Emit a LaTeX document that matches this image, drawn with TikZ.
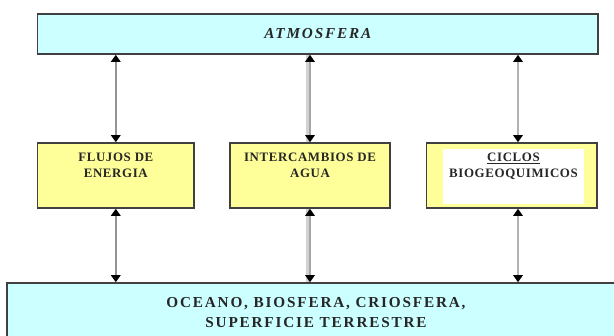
\documentclass[tikz,border=0pt]{standalone}
\usepackage{fontspec}
\setmainfont{Liberation Serif}
\usetikzlibrary{arrows.meta,positioning}
\definecolor{cielo}{HTML}{CCFFFF}
\definecolor{paja}{HTML}{FFFF99}
\tikzset{font=\bfseries}
\tikzset{
  bigbox/.style={draw=black!75,line width=1.3pt,fill=cielo,align=center,text=black!85,
    font=\fontsize{13}{17}\selectfont\bfseries\addfontfeature{LetterSpace=12}},
  midbox/.style={draw=black!75,line width=1.3pt,fill=paja,align=center,text=black!85,
    minimum height=1.95cm,text depth=0.6cm,
    font=\fontsize{11}{13.6}\selectfont\bfseries\addfontfeature{LetterSpace=5}},
  link/.style={line width=2.2pt,
    {Triangle[black,width=8pt,length=6pt]}-{Triangle[black,width=8pt,length=6pt]}},
  shade/.style={preaction={draw=gray!35,line width=3.5pt,-,
    transform canvas={xshift=-0.07cm}}}
}

\begin{document}
\begin{tikzpicture}
  \useasboundingbox (0,0) rectangle (18.42,-10.08);
  \clip (0,0) rectangle (18.42,-10.08);

  % upper and lower layers
  \node[bigbox,minimum width=16.81cm,minimum height=1.2cm] (atm) at (9.534,-1.02)
       {\itshape ATMOSFERA};
  \node[bigbox,minimum width=18.54cm,minimum height=1.77cm] (oceano) at (9.48,-9.375)
       {OCEANO, BIOSFERA, CRIOSFERA,\\SUPERFICIE TERRESTRE};

  % processes
  \node[midbox,minimum width=4.69cm] (flujos) at (3.474,-5.265) {FLUJOS DE\\ENERGIA};
  \node[midbox,minimum width=4.8cm] (agua) at (9.3,-5.265) {INTERCAMBIOS DE\\AGUA};
  \node[midbox,minimum width=5.115cm] (ciclos) at (15.35,-5.265) {};
  \node[fill=white,minimum width=4.23cm,minimum height=1.47cm,align=center,
        text depth=0.66cm,text=black!85,
        font=\fontsize{11}{13.6}\selectfont\bfseries\addfontfeature{LetterSpace=5}]
       (ciclostxt) at (15.405,-5.295) {\underline{CICLOS}\\BIOGEOQUIMICOS};

  \coordinate (c1) at ([xshift=0.19cm]ciclos.north);
  \coordinate (c2) at ([xshift=0.19cm]ciclos.south);

  \draw[link,draw=gray!85] (flujos.north |- atm.south) -- (flujos.north);
  \draw[link,shade,draw=gray!70] (agua.north |- atm.south) -- (agua.north);
  \draw[link,draw=gray!60] (c1 |- atm.south) -- (c1);

  \draw[link,draw=gray!85] (flujos.south) -- (flujos.south |- oceano.north);
  \draw[link,shade,draw=gray!70] (agua.south) -- (agua.south |- oceano.north);
  \draw[link,draw=gray!60] (c2) -- (c2 |- oceano.north);
\end{tikzpicture}
\end{document}
